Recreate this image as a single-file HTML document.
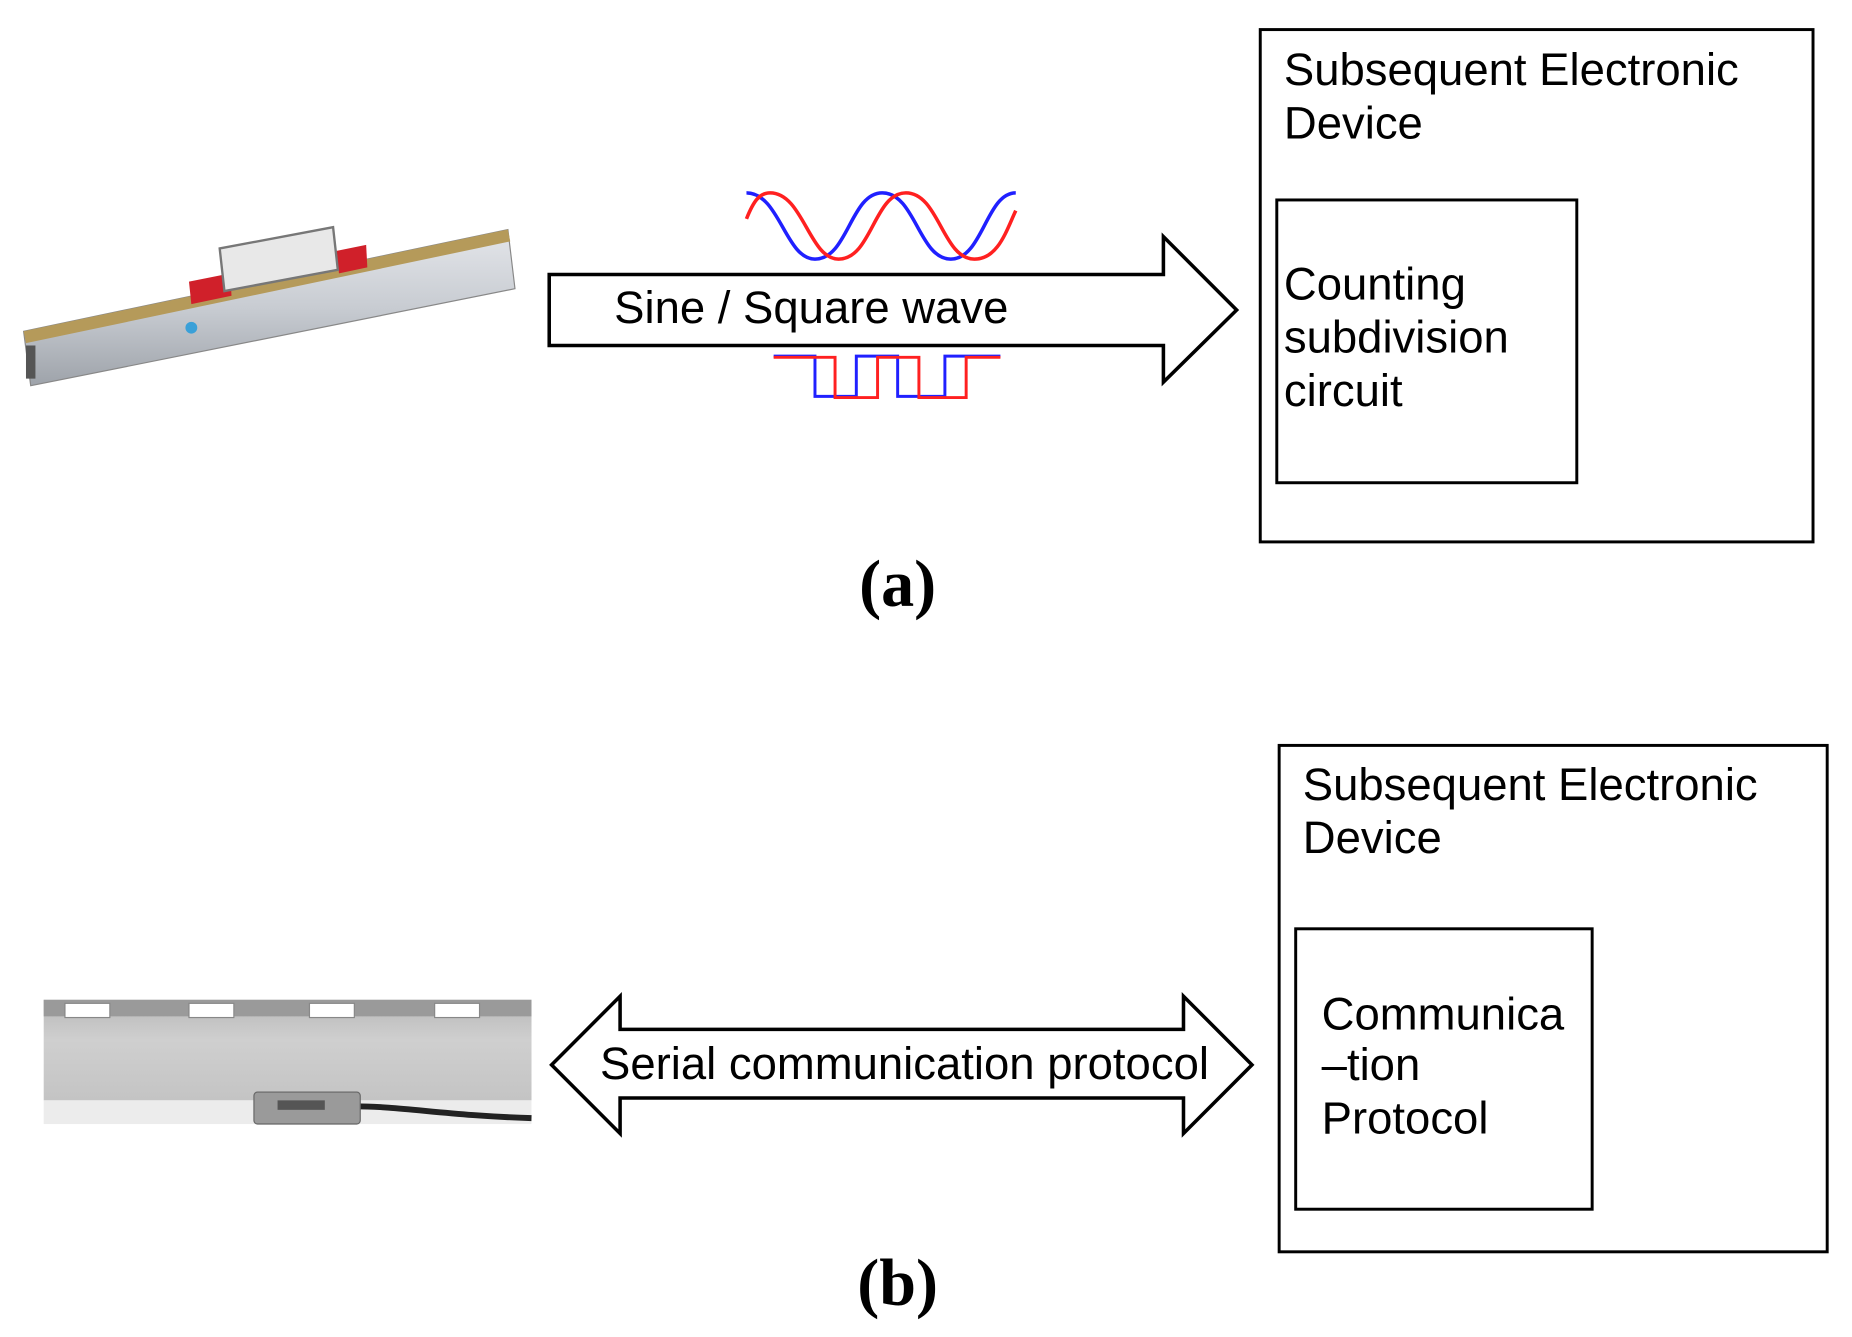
<!DOCTYPE html>
<html><head><meta charset="utf-8"><style>html,body{margin:0;padding:0;background:#fff}svg{display:block}</style></head>
<body>
<svg width="1852" height="1337" viewBox="0 0 1568 1130" preserveAspectRatio="none" xmlns="http://www.w3.org/2000/svg" font-family="Liberation Sans, sans-serif">
<defs>
<linearGradient id="bar" x1="0" y1="0" x2="0" y2="1"><stop offset="0" stop-color="#e4e6ea"/><stop offset="0.5" stop-color="#c8ccd2"/><stop offset="1" stop-color="#9ea3aa"/></linearGradient>
<linearGradient id="barb" x1="0" y1="0" x2="0" y2="1"><stop offset="0" stop-color="#b8b8b8"/><stop offset="0.4" stop-color="#cfcfcf"/><stop offset="1" stop-color="#c4c4c4"/></linearGradient>
</defs>
<g>
<polygon points="20,280 430,194 436,244 26,326" fill="url(#bar)" stroke="#888" stroke-width="1"/>
<polygon points="20,280 430,194 432,204 22,290" fill="#b59a5a"/>
<polygon points="160,238 195,231 196,250 162,257" fill="#d0202a"/>
<polygon points="285,212 310,207 311,226 287,231" fill="#d0202a"/>
<polygon points="186,210 282,192 286,228 190,246" fill="#e8e8e8" stroke="#777" stroke-width="2"/>
<circle cx="162" cy="277" r="5" fill="#3aa0d8"/>
<rect x="22" y="292" width="8" height="28" fill="#555"/>
</g>
<polygon points="465,232 985,232 985,200 1047,262 985,323 985,292 465,292" fill="#fff" stroke="#000" stroke-width="3"/>
<text x="520" y="273" font-size="38.5">Sine / Square wave</text>
<path d="M632,163 C660,163 665,219 690,219 C718,219 720,163 747,163 C775,163 778,219 805,219 C832,219 835,163 860,163" fill="none" stroke="#2020ff" stroke-width="3"/>
<path d="M632,185 C638,170 643,163 652,163 C680,163 685,219 710,219 C738,219 740,163 767,163 C795,163 798,219 825,219 C845,219 852,195 860,178" fill="none" stroke="#ff2020" stroke-width="3"/>
<path d="M655,301 L690,301 L690,335 L725,335 L725,301 L760,301 L760,335 L800,335 L800,301 L847,301" fill="none" stroke="#2020ff" stroke-width="2.5"/>
<path d="M655,302 L707,302 L707,336 L743,336 L743,302 L778,302 L778,336 L818,336 L818,302 L847,302" fill="none" stroke="#ff2020" stroke-width="2.5"/>
<rect x="1067" y="25" width="468" height="433" fill="none" stroke="#000" stroke-width="2.5"/>
<text x="1087" y="72" font-size="38.5">Subsequent Electronic</text>
<text x="1087" y="117" font-size="38.5">Device</text>
<rect x="1081" y="169" width="254" height="239" fill="none" stroke="#000" stroke-width="2.5"/>
<text x="1087" y="253" font-size="38.5">Counting</text>
<text x="1087" y="298" font-size="38.5">subdivision</text>
<text x="1087" y="343" font-size="38.5">circuit</text>
<text x="760" y="512" font-size="56" font-weight="bold" font-family="Liberation Serif, serif" text-anchor="middle">(a)</text>
<g>
<rect x="37" y="845" width="413" height="85" fill="url(#barb)"/>
<rect x="37" y="845" width="413" height="14" fill="#9a9a9a"/>
<rect x="55" y="848" width="38" height="12" fill="#fff" stroke="#888"/>
<rect x="160" y="848" width="38" height="12" fill="#fff" stroke="#888"/>
<rect x="262" y="848" width="38" height="12" fill="#fff" stroke="#888"/>
<rect x="368" y="848" width="38" height="12" fill="#fff" stroke="#888"/>
<rect x="37" y="930" width="413" height="20" fill="#ececec"/>
<path d="M300,935 C340,935 380,943 450,945" stroke="#222" stroke-width="5" fill="none"/>
<rect x="215" y="923" width="90" height="27" rx="3" fill="#9a9a9a" stroke="#666"/>
<rect x="235" y="930" width="40" height="8" fill="#555"/>
</g>
<polygon points="467,900 525,842 525,870 1002,870 1002,842 1060,900 1002,958 1002,928 525,928 525,958" fill="#fff" stroke="#000" stroke-width="3"/>
<text x="508" y="912" font-size="38.5">Serial communication protocol</text>
<rect x="1083" y="630" width="464" height="428" fill="none" stroke="#000" stroke-width="2.5"/>
<text x="1103" y="676" font-size="38.5">Subsequent Electronic</text>
<text x="1103" y="721" font-size="38.5">Device</text>
<rect x="1097" y="785" width="251" height="237" fill="none" stroke="#000" stroke-width="2.5"/>
<text x="1119" y="870" font-size="38.5">Communica</text>
<text x="1119" y="913" font-size="38.5">–tion</text>
<text x="1119" y="958" font-size="38.5">Protocol</text>
<text x="760" y="1103" font-size="56" font-weight="bold" font-family="Liberation Serif, serif" text-anchor="middle">(b)</text>
</svg>
</body></html>
